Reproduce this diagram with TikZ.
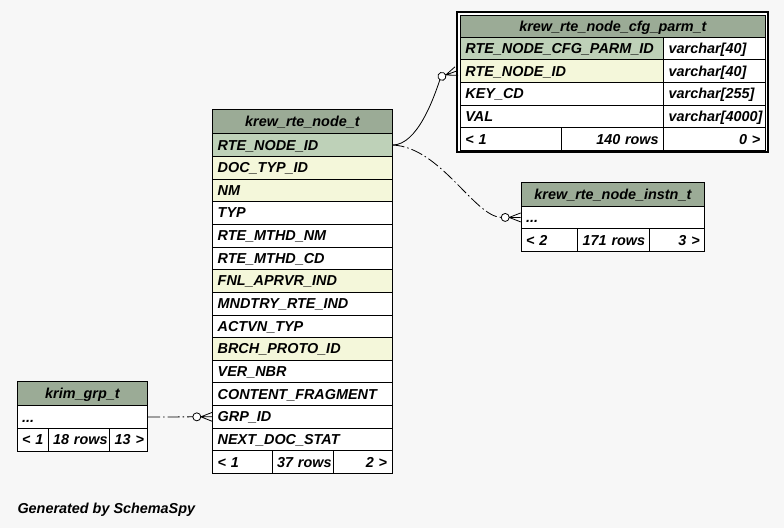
\documentclass[tikz,border=0pt]{standalone}
\usepackage{fontspec}
\setmainfont{Liberation Sans}
\usetikzlibrary{calc}
\definecolor{headgreen}{HTML}{9BAB96}
\definecolor{pkgreen}{HTML}{BED1B8}
\definecolor{idxyellow}{HTML}{F4F7DA}
\definecolor{bggray}{HTML}{F7F7F7}
\newcommand{\erfont}{\fontsize{14.4}{16}\selectfont\bfseries\itshape}
\tikzset{
  cell/.style={draw, line width=0.8pt, anchor=north west, inner xsep=5pt, inner ysep=0pt,
    minimum height=22.65pt, text height=10pt, text depth=0pt, align=left, fill=white, font=\erfont},
  head/.style={cell, fill=headgreen, align=center, minimum height=24pt},
  pk/.style={cell, fill=pkgreen},
  idx/.style={cell, fill=idxyellow},
  col/.style={cell},
  num/.style={cell, align=right},
  fk/.style={line width=0.8pt},
  implied/.style={fk, dash pattern=on 12pt off 3pt on 1.5pt off 3pt},
  crow/.pic={
    \draw[fk, fill=white] (-15.5,0) circle (4);
    \draw[fk] (-11.5,0) -- (0,-4.5) (-11.5,0) -- (0,0) (-11.5,0) -- (0,4.5);
  }
}

\begin{document}
\begin{tikzpicture}[x=1pt,y=-1pt]
  % canvas
  \fill[bggray] (0,0) rectangle (784,528);
  % krew_rte_node_t
  \node[head, text width=169.4pt] (nodehead) at (212.3,109.3) {krew\_rte\_node\_t};
  \foreach \colname/\kind [count=\i from 0] in {RTE\_NODE\_ID/pk, DOC\_TYP\_ID/idx, NM/idx,
      TYP/col, RTE\_MTHD\_NM/col, RTE\_MTHD\_CD/col, FNL\_APRVR\_IND/idx, MNDTRY\_RTE\_IND/col,
      ACTVN\_TYP/col, BRCH\_PROTO\_ID/idx, VER\_NBR/col, CONTENT\_FRAGMENT/col, GRP\_ID/col,
      NEXT\_DOC\_STAT/col}
    \node[\kind, text width=169.4pt] (node\i) at (212.3,133.3+22.65*\i) {\colname};
  \node[cell, text width=49.4pt] (nodeprev) at (212.3,450.4) {<~1};
  \node[num, text width=51.6pt] (noderows) at (271.7,450.4) {37~rows};
  \node[num, text width=48.4pt] (nodenext) at (333.3,450.4) {2~>};
  % krew_rte_node_cfg_parm_t
  \draw[line width=2.4pt, fill=white] (457.2,11.7) rectangle (767.8,152.2);
  \node[head, text width=295pt, minimum height=22.2pt] (cfghead) at (460,14.5) {krew\_rte\_node\_cfg\_parm\_t};
  \foreach \colname/\kind/\coltype [count=\i from 0] in {RTE\_NODE\_CFG\_PARM\_ID/pk/varchar[40],
      RTE\_NODE\_ID/idx/varchar[40], KEY\_CD/col/varchar[255], VAL/col/varchar[4000]} {
    \node[\kind, text width=193.3pt] (cfg\i) at (460,36.7+22.65*\i) {\colname};
    \node[col, text width=91.7pt] (cfgtype\i) at (663.3,36.7+22.65*\i) {\coltype};
  }
  \node[cell, text width=91pt] (cfgprev) at (460,127.3) {<~1};
  \node[num, text width=92.3pt] (cfgrows) at (561,127.3) {140~rows};
  \node[num, text width=91.7pt] (cfgnext) at (663.3,127.3) {0~>};
  % krew_rte_node_instn_t
  \node[head, text width=173.6pt] (instnhead) at (520.7,181.7) {krew\_rte\_node\_instn\_t};
  \node[cell, text width=173.6pt] (instn0) at (520.7,205.7) {...};
  \node[cell, text width=46.6pt] (instnprev) at (520.7,228.35) {<~2};
  \node[num, text width=61.4pt] (instnrows) at (577.3,228.35) {171~rows};
  \node[num, text width=45.6pt] (instnnext) at (648.7,228.35) {3~>};
  % krim_grp_t
  \node[head, text width=120.6pt] (grphead) at (16.7,381.3) {krim\_grp\_t};
  \node[cell, text width=120.6pt] (grp0) at (16.7,405.3) {...};
  \node[cell, text width=21pt] (grpprev) at (16.7,427.95) {<~1};
  \node[num, text width=51.6pt] (grprows) at (47.7,427.95) {18~rows};
  \node[num, text width=28pt] (grpnext) at (109.3,427.95) {13~>};
  % relationships
  \path ($(cfg1.west)+(-3.5,0)$) coordinate (cfgtip) pic[rotate=20] {crow};
  \path (instn0.west) coordinate (instntip) pic {crow};
  \path (node12.west) coordinate (grptip) pic {crow};
  \draw[fk] (node0.east) .. controls +(25,0) and +(-6,18) .. ($(cfgtip)+(-16.5,8.3)$);
  \draw[implied] (node0.east) .. controls +(48,2) and +(-27,-1) .. ($(instntip)+(-19.5,0)$);
  \draw[implied] (grp0.east) -- ($(grptip)+(-19.5,0)$);
  % footer
  \node[anchor=base west, inner sep=0pt, font=\erfont] (credit) at (17.3,513.3) {Generated by SchemaSpy};
\end{tikzpicture}
\end{document}
